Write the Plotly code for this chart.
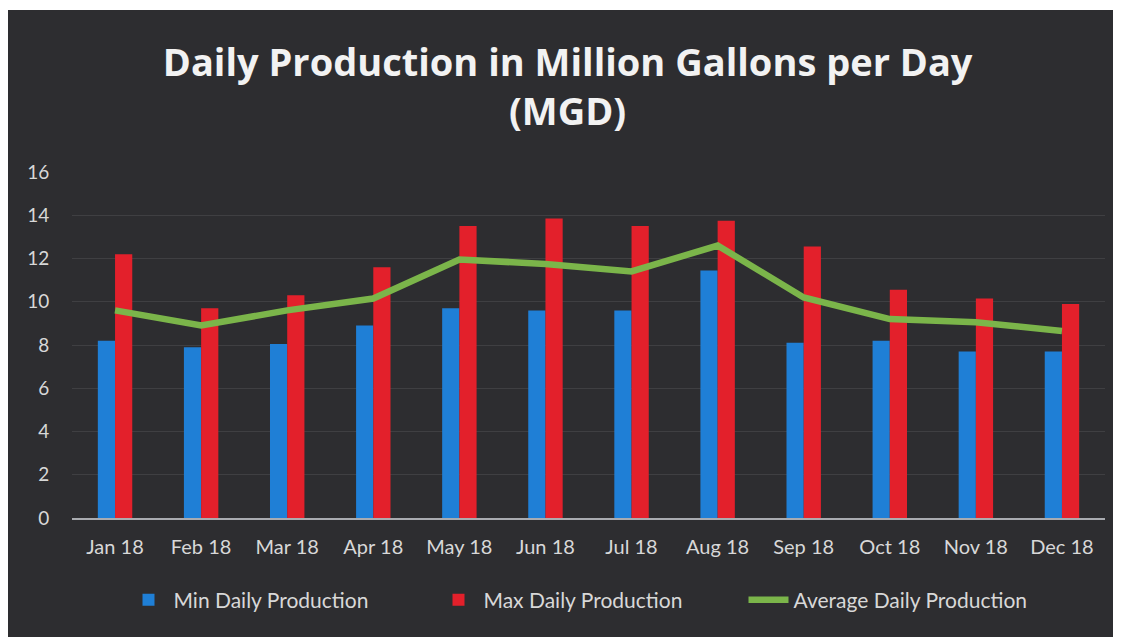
import plotly.graph_objects as go

months = ["Jan 18", "Feb 18", "Mar 18", "Apr 18", "May 18", "Jun 18",
          "Jul 18", "Aug 18", "Sep 18", "Oct 18", "Nov 18", "Dec 18"]
min_daily = [8.2, 7.9, 8.05, 8.9, 9.7, 9.6, 9.6, 11.45, 8.1, 8.2, 7.7, 7.7]
max_daily = [12.2, 9.7, 10.3, 11.6, 13.5, 13.85, 13.5, 13.75, 12.55, 10.55, 10.15, 9.9]
avg_daily = [9.6, 8.9, 9.6, 10.15, 11.95, 11.75, 11.4, 12.6, 10.2, 9.2, 9.05, 8.65]
y_ticks = [0, 2, 4, 6, 8, 10, 12, 14, 16]

# page body adds an 8px margin, so the figure is sized to fit the window
W, H = 1117, 629
ML, MR, MT, MB = 64, 20, 164, 119
pw, ph = W - ML - MR, H - MT - MB

fig = go.Figure()
fig.add_trace(go.Bar(x=months, y=min_daily, name="Min Daily Production",
                     marker=dict(color="#1f7fd6", line=dict(width=0))))
fig.add_trace(go.Bar(x=months, y=max_daily, name="Max Daily Production",
                     marker=dict(color="#e3202b", line=dict(width=0))))
fig.add_trace(go.Scatter(x=months, y=avg_daily, name="Average Daily Production",
                         mode="lines", line=dict(color="#7bb54a", width=6.5)))

# dark chart panel (white scan border at top and right)
fig.add_shape(type="rect", xref="paper", yref="paper", layer="below",
              x0=(0 - ML) / pw, x1=(1105 - ML) / pw,
              y0=(MT + ph - H - 5) / ph, y1=(MT + ph - 2) / ph,
              fillcolor="#2d2d30", line=dict(width=0))

fig.update_layout(
    width=W, height=H,
    margin=dict(l=ML, r=MR, t=MT, b=MB),
    paper_bgcolor="white",
    plot_bgcolor="rgba(0,0,0,0)",
    barmode="group", bargap=0.6, bargroupgap=0.0,
    title=dict(text="<b>Daily Production in Million Gallons per Day<br>(MGD)</b>",
               x=0.501, xanchor="center", y=0.892, yanchor="middle",
               font=dict(family="Open Sans", size=38, color="#f2f2f2")),
    font=dict(family="Lato", color="#d8d8d8"),
    legend=dict(orientation="h", x=0.5, xanchor="center",
                y=(MT + ph - 592) / ph, yanchor="middle",
                font=dict(family="Lato", size=21, color="#d8d8d8"),
                bgcolor="rgba(0,0,0,0)", entrywidth=255, itemwidth=40),
    showlegend=True,
)
fig.update_xaxes(showgrid=False, showline=True, linecolor="#a9abb0", linewidth=2,
                 tickfont=dict(size=20, color="#d8d8d8"), ticks="outside",
                 ticklen=10, tickcolor="rgba(0,0,0,0)")
fig.update_yaxes(range=[0, 16], tickvals=y_ticks, showgrid=True,
                 gridcolor="rgba(255,255,255,0.09)", gridwidth=1,
                 zeroline=False, showline=False,
                 tickfont=dict(size=19, color="#d8d8d8"), ticks="outside",
                 ticklen=18, tickcolor="rgba(0,0,0,0)")

fig.write_html("out.html")
